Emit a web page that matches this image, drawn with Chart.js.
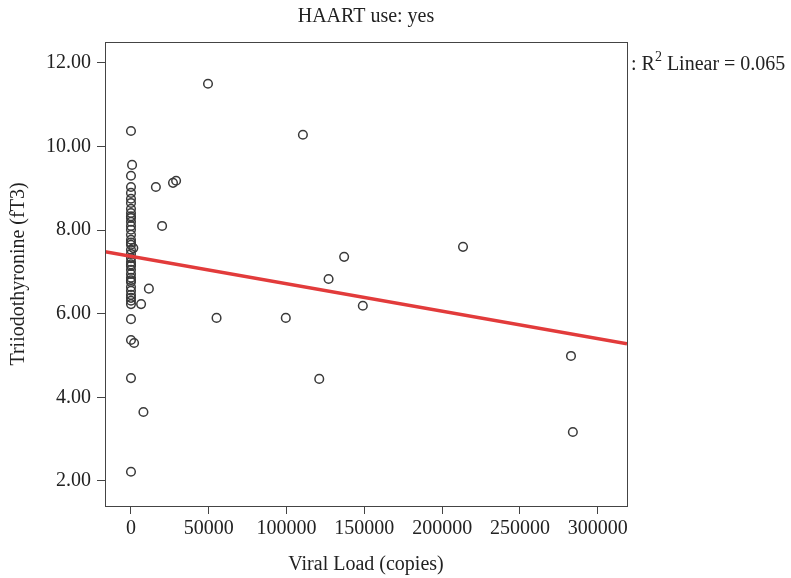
<!DOCTYPE html>
<html>
<head>
<meta charset="utf-8">
<script src="https://cdn.jsdelivr.net/npm/chart.js@4"></script>
<style>
  body { margin: 0; background: #fff; }
  #grafico { width: 791px; height: 578px; }
</style>
</head>
<body>
<div id="grafico"><canvas id="myChart" width="791" height="578"></canvas></div>
<script>
// viral load (copies) and fT3 for each patient
const viralLoad = [
  0, 0, 0, 0, 0, 0, 0, 0, 0, 0,
  0, 0, 0, 0, 0, 0, 0, 0, 0, 0,
  0, 0, 0, 0, 0, 0, 0, 0, 0, 0,
  0, 0, 0, 0, 0, 0, 0, 0,
  700, 1500, 2000,
  49500, 110500, 16000, 27000, 29000, 20000, 213400, 137000, 127000, 11500,
  6500, 149000, 55000, 99500, 121000, 8000, 282800, 284000
]
const ft3 = [
  10.37, 9.30, 9.03, 8.89, 8.75, 8.65, 8.51, 8.41, 8.33, 8.29,
  8.20, 8.10, 8.01, 7.89, 7.77, 7.70, 7.65, 7.53, 7.43, 7.33,
  7.24, 7.18, 7.14, 7.05, 6.95, 6.86, 6.80, 6.76, 6.64, 6.55,
  6.45, 6.38, 6.31, 6.23, 5.87, 5.37, 4.46, 2.22,
  9.56, 7.57, 5.30,
  11.50, 10.28, 9.03, 9.13, 9.18, 8.10, 7.60, 7.36, 6.83, 6.60,
  6.23, 6.19, 5.90, 5.90, 4.44, 3.65, 4.99, 3.17
]

// fit line ends
const lineX = [-16700, 318800]
const lineY = [7.48, 5.28]

const xTicks = [0, 50000, 100000, 150000, 200000, 250000, 300000]
const yTicks = [2, 4, 6, 8, 10, 12]

const fuente = "'Liberation Serif', 'DejaVu Serif', serif"
const gris = "#3a3a3a"

const puntos = viralLoad.map((v, i) => ({ x: v, y: ft3[i] }))
const linea = lineX.map((v, i) => ({ x: v, y: lineY[i] }))

// box around the plot + R2 text
const marco = {
  id: "marco",
  afterDraw(chart) {
    const { ctx, chartArea } = chart
    ctx.save()
    ctx.strokeStyle = "#444"
    ctx.lineWidth = 1
    ctx.strokeRect(chartArea.left + 0.5, chartArea.top + 0.5,
      chartArea.right - chartArea.left, chartArea.bottom - chartArea.top)

    ctx.fillStyle = "#222"
    ctx.textBaseline = "alphabetic"
    ctx.font = "20px " + fuente
    let x = chartArea.right + 4
    const y = 70
    ctx.fillText(": R", x, y)
    x += ctx.measureText(": R").width
    ctx.font = "14px " + fuente
    ctx.fillText("2", x, y - 9)
    x += ctx.measureText("2").width + 5
    ctx.font = "20px " + fuente
    ctx.fillText("Linear = 0.065", x, y)
    ctx.restore()
  }
}

const ctx = document.getElementById("myChart").getContext("2d")

new Chart(ctx, {
  data: {
    datasets: [
      {
        type: "scatter",
        data: puntos,
        pointStyle: "circle",
        pointRadius: 4.3,
        pointHoverRadius: 4.3,
        pointBorderWidth: 1.5,
        borderColor: gris,
        backgroundColor: "rgba(0,0,0,0)",
        order: 2
      },
      {
        type: "line",
        data: linea,
        borderColor: "#e23b3b",
        borderWidth: 3.5,
        pointRadius: 0,
        fill: false,
        order: 1
      }
    ]
  },
  options: {
    responsive: false,
    animation: false,
    layout: { padding: { left: 0, right: 164, top: 0, bottom: 0 } },
    plugins: {
      legend: { display: false },
      tooltip: { enabled: false },
      title: {
        display: true,
        fullSize: false,
        text: "HAART use: yes",
        color: "#222",
        font: { family: fuente, size: 20, weight: "normal" },
        padding: { top: 5, bottom: 13 }
      }
    },
    scales: {
      x: {
        type: "linear",
        min: lineX[0],
        max: lineX[1],
        afterBuildTicks: (scale) => { scale.ticks = xTicks.map(v => ({ value: v })) },
        ticks: {
          color: "#222",
          font: { family: fuente, size: 20 },
          padding: 3,
          maxRotation: 0,
          callback: (v) => String(v)
        },
        grid: { display: true, drawOnChartArea: false, tickLength: 8, color: "#444" },
        border: { display: false },
        title: {
          display: true,
          text: "Viral Load (copies)",
          color: "#222",
          font: { family: fuente, size: 20 },
          padding: { top: 0, bottom: 1 }
        },
        afterFit: (scale) => { scale.height = 72 }
      },
      y: {
        type: "linear",
        min: 1.4,
        max: 12.5,
        afterBuildTicks: (scale) => { scale.ticks = yTicks.map(v => ({ value: v })) },
        ticks: {
          color: "#222",
          font: { family: fuente, size: 20 },
          padding: 6,
          callback: (v) => v.toFixed(2)
        },
        grid: { display: true, drawOnChartArea: false, tickLength: 8, color: "#444" },
        border: { display: false },
        title: {
          display: true,
          text: "Triiodothyronine (fT3)",
          color: "#222",
          font: { family: fuente, size: 20 },
          padding: { top: 6.5, bottom: 0 }
        },
        afterFit: (scale) => { scale.width = 105 }
      }
    }
  },
  plugins: [marco]
})
</script>
</body>
</html>
